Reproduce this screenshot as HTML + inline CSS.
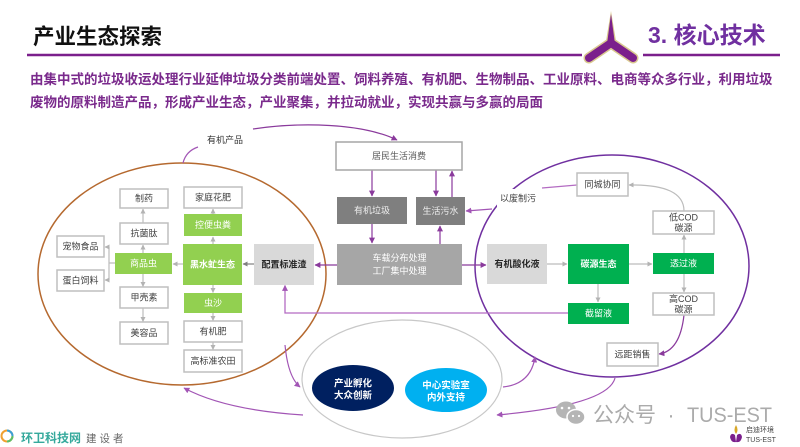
<!DOCTYPE html>
<html><head><meta charset="utf-8"><style>
html,body{margin:0;padding:0;background:#fff;}
body{width:800px;height:447px;overflow:hidden;}
svg{display:block;font-family:"Liberation Sans","Noto Sans CJK SC",sans-serif;}
</style></head><body>
<svg width="800" height="447" viewBox="0 0 800 447" xmlns="http://www.w3.org/2000/svg">
<defs>
<marker id="ap" viewBox="0 0 10 10" refX="9" refY="5" markerWidth="6" markerHeight="6" markerUnits="userSpaceOnUse" orient="auto"><path d="M0,0 L10,5 L0,10 z" fill="#8a3a9c"/></marker>
<marker id="al" viewBox="0 0 10 10" refX="9" refY="5" markerWidth="6" markerHeight="6" markerUnits="userSpaceOnUse" orient="auto"><path d="M0,0 L10,5 L0,10 z" fill="#a255b5"/></marker>
<marker id="ag" viewBox="0 0 10 10" refX="9" refY="5" markerWidth="5" markerHeight="5" markerUnits="userSpaceOnUse" orient="auto"><path d="M0,0 L10,5 L0,10 z" fill="#b3b3b3"/></marker>
<marker id="ad" viewBox="0 0 10 10" refX="9" refY="5" markerWidth="5" markerHeight="5" markerUnits="userSpaceOnUse" orient="auto"><path d="M0,0 L10,5 L0,10 z" fill="#808080"/></marker>
</defs>

<!-- Header -->
<text x="33" y="44" font-size="21.5" font-weight="bold" fill="#111">产业生态探索</text>
<line x1="27" y1="55" x2="582" y2="55" stroke="#7b1f8c" stroke-width="2.5"/>
<line x1="643" y1="55" x2="780" y2="55" stroke="#7b1f8c" stroke-width="2.5"/>
<g>
<path d="M589,58 L611,43 L633,58" fill="none" stroke="#d9c88f" stroke-width="11" stroke-linecap="round" stroke-linejoin="round"/>
<polygon points="611,11 605.5,44 616.5,44" fill="#d9c88f"/>
<path d="M589,58 L611,43 L633,58" fill="none" stroke="#7b1f8c" stroke-width="8" stroke-linecap="round" stroke-linejoin="round"/>
<polygon points="611,14 607,44 615,44" fill="#7b1f8c"/>
</g>
<text x="648" y="43" font-size="23" font-weight="bold" fill="#7030a0">3. 核心技术</text>

<text x="30" y="84" font-size="13.5" font-weight="bold" fill="#7a2a8c">由集中式的垃圾收运处理行业延伸垃圾分类前端处置、饲料养殖、有机肥、生物制品、工业原料、电商等众多行业，利用垃圾</text>
<text x="30" y="107" font-size="13.5" font-weight="bold" fill="#7a2a8c">废物的原料制造产品，形成产业生态，产业聚集，并拉动就业，实现共赢与多赢的局面</text>

<!-- Ellipses -->
<ellipse cx="182" cy="274" rx="144" ry="111" fill="none" stroke="#b5692f" stroke-width="1.5"/>
<ellipse cx="612" cy="266" rx="137" ry="111" fill="none" stroke="#7030a0" stroke-width="1.5"/>
<rect x="497" y="189" width="43" height="18" fill="#fff"/>
<text x="518" y="198.5" font-size="9" fill="#404040" text-anchor="middle" dominant-baseline="central">以废制污</text>

<!-- top label & curves -->
<text x="225" y="140" font-size="9" fill="#333" text-anchor="middle" dominant-baseline="central">有机产品</text>
<path d="M183,163 Q186,151 198,147" fill="none" stroke="#a255b5" stroke-width="1.2"/>
<path d="M253,129 C300,122 362,123 397,140" fill="none" stroke="#8a3a9c" stroke-width="1.2" marker-end="url(#ap)"/>

<!-- Center purple arrows -->
<g fill="none" stroke="#8a3a9c" stroke-width="1.2">
<path d="M372,170 L372,196" marker-end="url(#ap)"/>
<path d="M436,170 L436,196" marker-end="url(#ap)"/>
<path d="M452,216 L452,171" marker-end="url(#ap)"/>
<path d="M372,224 L372,243" marker-end="url(#ap)"/>
<path d="M440,244 L440,226" marker-end="url(#ap)"/>
<path d="M337,265 L315,265" marker-end="url(#ap)"/>
<path d="M462,265 L486,265" marker-end="url(#ap)"/>
<path d="M492,209 L466,211" marker-end="url(#al)" stroke="#a255b5"/>
</g>
<path d="M568,313 L285,313 L285,285.5" fill="none" stroke="#b36bc2" stroke-width="1.3" marker-end="url(#al)"/>
<path d="M542,188 L577,185" fill="none" stroke="#b36bc2" stroke-width="1.3"/>

<!-- gray arrows right -->
<g fill="none" stroke="#bcbcbc" stroke-width="1.2">
<path d="M547,264 L567,264" marker-end="url(#ag)"/>
<path d="M629,264 L652,264" marker-end="url(#ag)"/>
<path d="M598,284 L598,302" marker-end="url(#ag)"/>
<path d="M684,253 L684,235" marker-end="url(#ag)"/>
<path d="M684,274 L684,292" marker-end="url(#ag)"/>
<path d="M684,211 Q684,184 629,185" marker-end="url(#ag)"/>
</g>
<path d="M684,315 Q680,351 659,354" fill="none" stroke="#8a3a9c" stroke-width="1.2" marker-end="url(#ap)"/>

<!-- gray arrows left -->
<g fill="none" stroke="#bcbcbc" stroke-width="1.2">
<path d="M183,264 L173,264" marker-end="url(#ag)"/>
<path d="M213,244 L213,237" marker-end="url(#ag)"/>
<path d="M213,214 L213,209" marker-end="url(#ag)"/>
<path d="M213,285 L213,292.5" marker-end="url(#ag)"/>
<path d="M213,313 L213,320.5" marker-end="url(#ag)"/>
<path d="M213,342 L213,349.5" marker-end="url(#ag)"/>
<path d="M143,253 L143,245" marker-end="url(#ag)"/>
<path d="M143,223 L143,209" marker-end="url(#ag)"/>
<path d="M143,274 L143,286.5" marker-end="url(#ag)"/>
<path d="M143,308 L143,321.5" marker-end="url(#ag)"/>
<path d="M115,263 L109,263 M109,247 L109,280"/>
<path d="M109,247 L105,247" marker-end="url(#ag)"/>
<path d="M109,280 L105,280" marker-end="url(#ag)"/>
</g>
<path d="M254,264 L243,264" fill="none" stroke="#808080" stroke-width="1.2" marker-end="url(#ad)"/>

<!-- Boxes left -->
<g stroke="#bfbfbf" stroke-width="1.5" fill="#fff">
<rect x="120" y="189" width="48" height="19"/>
<rect x="184" y="187" width="58" height="21"/>
<rect x="120" y="223" width="48" height="21"/>
<rect x="57" y="236" width="47" height="21"/>
<rect x="57" y="270" width="47" height="21"/>
<rect x="120" y="287" width="48" height="21"/>
<rect x="120" y="322" width="48" height="22"/>
<rect x="184" y="321" width="58" height="21"/>
<rect x="184" y="350" width="58" height="22"/>
<rect x="336" y="142" width="126" height="28" stroke="#a6a6a6"/>
<rect x="653" y="211" width="61" height="23"/>
<rect x="653" y="293" width="61" height="22"/>
<rect x="577" y="173" width="51" height="23"/>
<rect x="607" y="343" width="51" height="23"/>
</g>
<g fill="#92d050">
<rect x="184" y="214" width="58" height="22"/>
<rect x="115" y="253" width="57" height="21"/>
<rect x="183" y="244" width="59" height="41"/>
<rect x="184" y="293" width="58" height="20"/>
</g>
<rect x="254" y="244" width="60" height="41" fill="#d9d9d9"/>
<rect x="337" y="197" width="70" height="27" fill="#7f7f7f"/>
<rect x="416" y="197" width="49" height="28" fill="#7f7f7f"/>
<rect x="337" y="244" width="125" height="41" fill="#a6a6a6"/>
<rect x="487" y="244" width="60" height="40" fill="#d9d9d9"/>
<g fill="#00b050">
<rect x="568" y="244" width="61" height="40"/>
<rect x="653" y="253" width="61" height="21"/>
<rect x="568" y="303" width="61" height="21"/>
</g>

<!-- Box labels -->
<g font-size="9" text-anchor="middle" dominant-baseline="central" fill="#404040">
<text x="144" y="198.5">制药</text>
<text x="213" y="197.5">家庭花肥</text>
<text x="144" y="233.5">抗菌肽</text>
<text x="80.5" y="246.5">宠物食品</text>
<text x="80.5" y="280.5">蛋白饲料</text>
<text x="144" y="297.5">甲壳素</text>
<text x="144" y="333">美容品</text>
<text x="213" y="331.5">有机肥</text>
<text x="213" y="361">高标准农田</text>
<text x="399" y="156" fill="#595959">居民生活消费</text>
<text x="683.5" y="217.5">低COD</text>
<text x="683.5" y="228">碳源</text>
<text x="683.5" y="299">高COD</text>
<text x="683.5" y="309.5">碳源</text>
<text x="602.5" y="184.5">同城协同</text>
<text x="632.5" y="354.5">远距销售</text>
</g>
<g font-size="9" text-anchor="middle" dominant-baseline="central" fill="#fff">
<text x="213" y="225">控便虫粪</text>
<text x="143.5" y="263.5">商品虫</text>
<text x="212.5" y="264.5" font-weight="bold">黑水虻生态</text>
<text x="213" y="303">虫沙</text>
<text x="372" y="210.5" fill="#eeeeee">有机垃圾</text>
<text x="440.5" y="211" fill="#eeeeee">生活污水</text>
<text x="399.5" y="258">车载分布处理</text>
<text x="399.5" y="271">工厂集中处理</text>
<text x="598.5" y="264" font-weight="bold">碳源生态</text>
<text x="683.5" y="263.5">透过液</text>
<text x="598.5" y="313.5">截留液</text>
</g>
<g font-size="9" text-anchor="middle" dominant-baseline="central" fill="#262626" font-weight="bold">
<text x="284" y="264.5">配置标准渣</text>
<text x="517" y="264">有机酸化液</text>
</g>

<!-- Bottom ellipse group -->
<ellipse cx="402" cy="379" rx="100" ry="59" fill="#fff" stroke="#c8c8c8" stroke-width="1.2"/>
<ellipse cx="353" cy="388" rx="41" ry="23" fill="#002060"/>
<ellipse cx="446" cy="390" rx="41" ry="22" fill="#00b0f0"/>
<g font-size="9.5" font-weight="bold" fill="#fff" text-anchor="middle" dominant-baseline="central">
<text x="353" y="384">产业孵化</text>
<text x="353" y="396">大众创新</text>
<text x="446" y="386">中心实验室</text>
<text x="446" y="398">内外支持</text>
</g>

<!-- bottom connectors -->
<g fill="none" stroke="#a255b5" stroke-width="1.2">
<path d="M285,345 Q288,377 300,387" marker-end="url(#al)"/>
<path d="M303,415 Q225,410 184,388" marker-end="url(#al)"/>
<path d="M503,387 Q531,384 535,357" marker-end="url(#al)"/>
<path d="M615,378 Q608,405 497,415" marker-end="url(#al)"/>
</g>

<!-- watermark -->
<g fill="#b5b5b5">
<ellipse cx="566" cy="410" rx="10" ry="8.5"/>
<ellipse cx="576" cy="417" rx="9" ry="7.5" stroke="#fff" stroke-width="1.5"/>
<circle cx="562" cy="408" r="1.3" fill="#fff"/>
<circle cx="569" cy="408" r="1.3" fill="#fff"/>
<circle cx="573" cy="416" r="1.1" fill="#fff"/>
<circle cx="579" cy="416" r="1.1" fill="#fff"/>
</g>
<text x="593" y="422" font-size="21" fill="#ababab">公众号</text>
<text x="671" y="422" font-size="21" fill="#ababab" text-anchor="middle">·</text>
<text x="687" y="422" font-size="21" fill="#ababab" textLength="85" lengthAdjust="spacingAndGlyphs">TUS-EST</text>

<!-- bottom-right logo -->
<path d="M736,425 Q733,430 736,434 Q739,430 736,425 z" fill="#d8a82a"/>
<path d="M730,437 Q731,432 735,435 L736,442 Q731,443 730,437 z M742,437 Q741,432 737,435 L736,442 Q741,443 742,437 z" fill="#7b1f8c"/>
<text x="746" y="432" font-size="7" fill="#444">启迪环境</text>
<text x="746" y="442" font-size="7" fill="#444">TUS-EST</text>

<!-- bottom-left logo -->
<circle cx="7" cy="436" r="5.5" fill="none" stroke="#f0a030" stroke-width="2"/>
<path d="M7,430.5 A5.5,5.5 0 0 1 12.5,436" fill="none" stroke="#3aa0d8" stroke-width="2"/>
<path d="M12.5,436 A5.5,5.5 0 0 1 7,441.5" fill="none" stroke="#5bbf6a" stroke-width="2"/>
<text x="21" y="442" font-size="12" font-weight="bold" fill="#35a99c">环卫科技网</text>
<text x="86" y="442" font-size="10.5" fill="#666" letter-spacing="3">建设者</text>
</svg>
</body></html>
